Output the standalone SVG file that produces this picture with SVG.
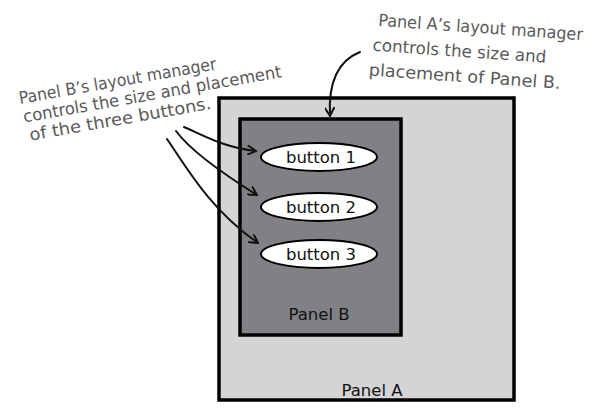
<svg xmlns="http://www.w3.org/2000/svg" width="596" height="410" viewBox="0 0 596 410">
  <style>
    .note { font-family: "DejaVu Sans", "Liberation Sans", sans-serif; font-size: 17px; fill: #5a5a5a; }
    .lbl { font-family: "DejaVu Sans", "Liberation Sans", sans-serif; font-size: 16.5px; fill: #111; text-anchor: middle; }
    .conn { fill: none; stroke: #111; stroke-width: 2; stroke-linecap: round; }
  </style>
  <defs>
    <marker id="arr" viewBox="0 0 10 10" refX="9" refY="5" markerWidth="10" markerHeight="10" markerUnits="userSpaceOnUse" orient="auto">
      <path d="M1,0.5 L9,5 L1,9.5" fill="none" stroke="#111" stroke-width="2" stroke-linecap="round" stroke-linejoin="round"/>
    </marker>
  </defs>
  <rect width="596" height="410" fill="#fff"/>

  <g id="panelA">
    <rect x="219" y="98" width="295" height="302" fill="#d4d4d6" stroke="#000" stroke-width="3.5"/>
    <text class="lbl" x="372" y="396">Panel A</text>
  </g>
  <g id="panelB">
    <rect x="240" y="119" width="161" height="216" fill="#808184" stroke="#000" stroke-width="3.5"/>
    <text class="lbl" x="319" y="320">Panel B</text>
  </g>
  <g id="button1">
    <ellipse cx="319" cy="157" rx="58" ry="14" fill="#fff" stroke="#000" stroke-width="2"/>
    <text class="lbl" x="321" y="163">button 1</text>
  </g>
  <g id="button2">
    <ellipse cx="319" cy="207" rx="58" ry="14" fill="#fff" stroke="#000" stroke-width="2"/>
    <text class="lbl" x="321" y="213">button 2</text>
  </g>
  <g id="button3">
    <ellipse cx="319" cy="254" rx="58" ry="14" fill="#fff" stroke="#000" stroke-width="2"/>
    <text class="lbl" x="321" y="260">button 3</text>
  </g>

  <g id="noteB">
    <g transform="rotate(-10 20 104)">
      <text class="note" x="20" y="104" textLength="200" lengthAdjust="spacingAndGlyphs">Panel B’s layout manager</text>
      <text class="note" x="21" y="123" textLength="262" lengthAdjust="spacingAndGlyphs">controls the size and placement</text>
      <text class="note" x="24" y="142" textLength="184" lengthAdjust="spacingAndGlyphs">of the three buttons.</text>
    </g>
  </g>
  <g id="noteA">
    <g transform="rotate(4 378 26)">
      <text class="note" x="378" y="26" textLength="205" lengthAdjust="spacingAndGlyphs">Panel A’s layout manager</text>
      <text class="note" x="374" y="51" textLength="174" lengthAdjust="spacingAndGlyphs">controls the size and</text>
      <text class="note" x="372" y="76" textLength="192" lengthAdjust="spacingAndGlyphs">placement of Panel B.</text>
    </g>
  </g>

  <g id="connectors">
    <path class="conn" d="M360,52 C340,60 328,80 330,116" marker-end="url(#arr)"/>
    <path class="conn" d="M184,127 C205,136 225,148 256,151" marker-end="url(#arr)"/>
    <path class="conn" d="M176,131 C190,150 225,175 257,195" marker-end="url(#arr)"/>
    <path class="conn" d="M167,139 C185,165 210,210 258,243" marker-end="url(#arr)"/>
  </g>
</svg>
